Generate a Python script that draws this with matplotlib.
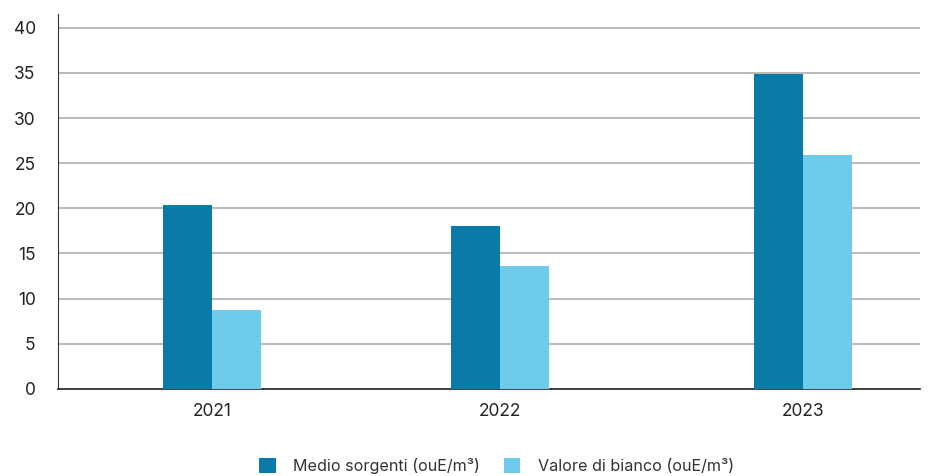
import numpy as np
import matplotlib.pyplot as plt

plt.rcParams['font.family'] = ['Inter', 'DejaVu Sans']

anni = ["2021", "2022", "2023"]
medio_sorgenti = [20.4, 18.0, 34.9]
valore_bianco = [8.75, 13.6, 25.9]

col_medio = "#0a7ba8"
col_bianco = "#6ecbea"

fig = plt.figure(figsize=(9.34, 4.76), dpi=100)
ax = fig.add_axes([0.062, 0.183, 0.923, 0.788])

# the categories in the original are not quite evenly spaced
x = np.array([0, 0.975, 2.0])
w = 0.166
ax.bar(x - w / 2, medio_sorgenti, w, color=col_medio, label="Medio sorgenti (ouE/m³)", zorder=3)
ax.bar(x + w / 2, valore_bianco, w, color=col_bianco, label="Valore di bianco (ouE/m³)", zorder=3)

ax.set_xlim(-0.521, 2.396)
ax.set_ylim(0, 41.55)
ax.set_yticks(range(0, 41, 5))
ax.set_xticks(x)
ax.set_xticklabels(anni)
ax.yaxis.grid(True, color="#b4b4b4", linewidth=1.3, zorder=0)
ax.tick_params(axis="both", length=0, labelsize=12.5, colors="#222222")
ax.tick_params(axis="y", pad=16)
ax.tick_params(axis="x", pad=10)

for s in ["top", "right"]:
    ax.spines[s].set_visible(False)
ax.spines["left"].set_color("#333333")
ax.spines["bottom"].set_color("#333333")
ax.spines["bottom"].set_linewidth(1.3)

fig.legend(loc="lower center", bbox_to_anchor=(0.532, -0.026), ncol=2, frameon=False,
           fontsize=11.6, handlelength=1.0, handleheight=1.0, columnspacing=1.5,
           handletextpad=1.1, labelcolor="#333333")

fig.savefig("out.png", dpi=100)
